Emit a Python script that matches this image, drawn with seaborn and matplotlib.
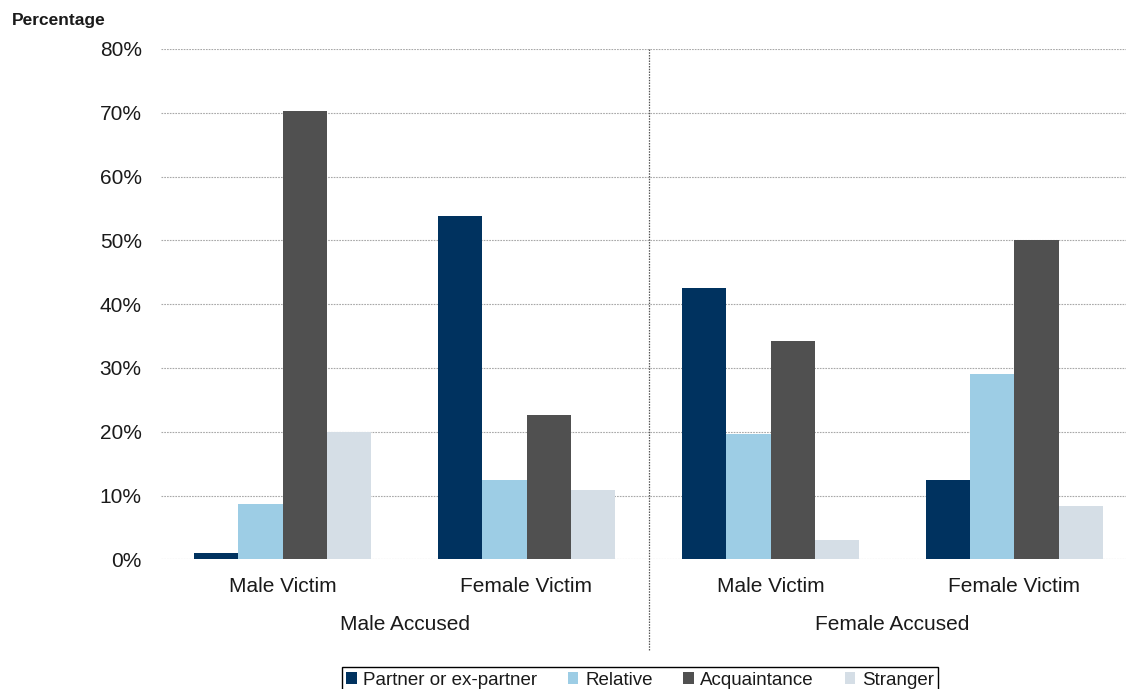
import matplotlib
matplotlib.use("Agg")
import matplotlib.pyplot as plt
import matplotlib.transforms as mtransforms
from matplotlib.patches import Patch
from matplotlib.ticker import PercentFormatter
import pandas as pd
import seaborn as sns

# Chart data
accused = ["Male Accused", "Female Accused"]
victims = ["Male Victim", "Female Victim"]
relationships = ["Partner or ex-partner", "Relative", "Acquaintance", "Stranger"]

# Percentages per relationship, ordered: MA-MV, MA-FV, FA-MV, FA-FV
partner = [1.0, 53.8, 42.6, 12.4]
relative = [8.6, 12.5, 19.7, 29.0]
acquaintance = [70.3, 22.7, 34.3, 50.0]
stranger = [19.9, 10.8, 3.0, 8.3]

y_ticks = [0, 10, 20, 30, 40, 50, 60, 70, 80]
colors = ["#00325F", "#9DCDE5", "#505050", "#D5DEE6"]

cells = [f"{a}|{v}" for a in accused for v in victims]
series = dict(zip(relationships, [partner, relative, acquaintance, stranger]))
rows = []
for rel, vals in series.items():
    for cell, v in zip(cells, vals):
        rows.append({"cell": cell, "relationship": rel, "value": v / 100})
df = pd.DataFrame(rows)

sns.set_theme(style="white")
plt.rcParams["font.family"] = ["Liberation Sans", "DejaVu Sans"]

W, H = 1126, 689
fig = plt.figure(figsize=(W / 100, H / 100), dpi=100)
ax = fig.add_axes([160.5 / W, (H - 559.3) / H, (W - 160.5) / W, (559.3 - 49) / H])

sns.barplot(data=df, x="cell", y="value", hue="relationship", order=cells,
            hue_order=relationships, palette=colors, width=0.725, gap=0,
            saturation=1, errorbar=None, legend=False, linewidth=0, ax=ax)

ax.set_xlim(-0.5, (W - 282.5) / 244)
ax.set_ylim(0, 0.8)
ax.set_yticks([t / 100 for t in y_ticks])
ax.yaxis.set_major_formatter(PercentFormatter(1.0, decimals=0))
ax.set_xticks(range(len(cells)))
ax.set_xticklabels([c.split("|")[1] for c in cells])
ax.set_xlabel("")
ax.set_ylabel("")

for s in ax.spines.values():
    s.set_visible(False)
ax.set_axisbelow(True)
ax.yaxis.grid(True, color="#A8A8A8", linestyle=(0, (1.5, 1)), linewidth=0.8)
ax.xaxis.grid(False)
ax.tick_params(axis="both", length=0, labelsize=15, colors="#1a1a1a")
ax.tick_params(axis="y", pad=13.5)
ax.tick_params(axis="x", pad=13)

# Divider between accused groups
blend_ax = mtransforms.blended_transform_factory(ax.transData, ax.transAxes)
ax.plot([1.5, 1.5], [1.0, -0.178], transform=blend_ax, color="#555555",
        linestyle=(0, (1.2, 1)), linewidth=0.9, clip_on=False)

# Accused group labels
blend_fig = mtransforms.blended_transform_factory(ax.transData, fig.transFigure)
for i, a in enumerate(accused):
    fig.text(2 * i + 0.5, 1 - 624 / H, a, transform=blend_fig, ha="center",
             va="center", fontsize=15, color="#1a1a1a")

fig.text(12 / W, 1 - 21 / H, "Percentage", ha="left", va="center",
         fontsize=12.5, fontweight="bold", color="#1a1a1a")

handles = [Patch(facecolor=c, edgecolor="none", label=r) for c, r in zip(colors, relationships)]
leg = fig.legend(handles=handles, loc="upper center", bbox_to_anchor=(640 / W, 1 - 667 / H),
                 ncol=4, frameon=True, fancybox=False, fontsize=13.5,
                 handlelength=0.55, handleheight=0.55, handletextpad=0.35,
                 columnspacing=1.65, borderpad=0.25, borderaxespad=0,
                 edgecolor="black", framealpha=1)
leg.get_frame().set_linewidth(1.0)
for t in leg.get_texts():
    t.set_color("#1a1a1a")

fig.savefig("out.png", dpi=100)
